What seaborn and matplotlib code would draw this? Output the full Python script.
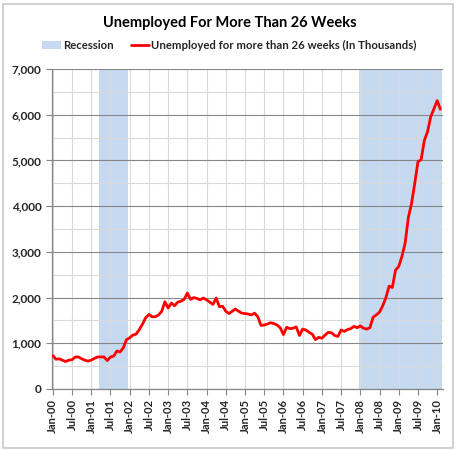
import numpy as np
import pandas as pd
import matplotlib
matplotlib.use("Agg")
import matplotlib.pyplot as plt
import matplotlib.ticker as mticker
from matplotlib.patches import Rectangle
import seaborn as sns

# ---- data (thousands, monthly from Jan 2000) ----
start_month = "2000-01"
values = [
    730, 650, 660, 630, 600, 630, 640, 700, 700, 660, 630, 610,      # 2000
    630, 670, 700, 700, 700, 620, 700, 720, 830, 810, 900, 1080,     # 2001
    1120, 1180, 1200, 1300, 1420, 1560, 1630, 1580, 1580, 1620, 1700, 1910,  # 2002
    1770, 1880, 1820, 1900, 1920, 1960, 2100, 1960, 2000, 1980, 1950, 1990,  # 2003
    1950, 1900, 1850, 1990, 1800, 1810, 1700, 1650, 1700, 1750, 1700, 1660,  # 2004
    1650, 1640, 1620, 1660, 1580, 1390, 1400, 1420, 1450, 1430, 1400, 1340,  # 2005
    1190, 1350, 1320, 1330, 1360, 1170, 1310, 1290, 1240, 1200, 1080, 1130,  # 2006
    1110, 1180, 1240, 1230, 1170, 1150, 1290, 1260, 1300, 1320, 1370, 1340,  # 2007
    1380, 1330, 1310, 1340, 1570, 1620, 1680, 1820, 2000, 2250, 2220, 2600,  # 2008
    2680, 2900, 3190, 3750, 4060, 4500, 4970, 5020, 5440, 5630, 5960, 6130,  # 2009
    6310, 6120,                                                        # 2010
]
tick_labels = ["Jan-00", "Jul-00", "Jan-01", "Jul-01", "Jan-02", "Jul-02",
               "Jan-03", "Jul-03", "Jan-04", "Jul-04", "Jan-05", "Jul-05",
               "Jan-06", "Jul-06", "Jan-07", "Jul-07", "Jan-08", "Jul-08",
               "Jan-09", "Jul-09", "Jan-10"]
recession_starts = ["2001-04", "2008-01"]
recession_ends = ["2001-12", "2010-02"]
series_name = "Unemployed for more than 26 weeks (In Thousands)"

df = pd.DataFrame({"month": np.arange(len(values)), "value": values})
p0 = pd.Period(start_month, freq="M")

def midx(s):
    return (pd.Period(s, freq="M") - p0).n

sns.set_style("white")
plt.rcParams["font.family"] = ["Lato", "DejaVu Sans"]

fig = plt.figure(figsize=(4.59, 4.50), dpi=100)
ax = fig.add_axes([0.113, 0.1356, 0.852, 0.711])

for i, (s, e) in enumerate(zip(recession_starts, recession_ends)):
    ax.axvspan(midx(s) - 0.5, midx(e) + 0.5, color="#C5D9F1", lw=0,
               label="Recession" if i == 0 else None, zorder=0)

sns.lineplot(data=df, x="month", y="value", ax=ax, color="#FF0000", lw=2,
             label=series_name, zorder=3)

ax.set_xlim(-0.3, 121.8)
ax.set_ylim(0, 7000)
ax.set_xticks(np.arange(0, 6 * len(tick_labels), 6))
ax.set_xticklabels(tick_labels, rotation=90, fontsize=8, color="#262626", fontweight="bold")
ax.yaxis.set_major_locator(mticker.MultipleLocator(1000))
ax.yaxis.set_minor_locator(mticker.MultipleLocator(500))
ax.yaxis.set_major_formatter(mticker.FuncFormatter(lambda v, p: f"{int(v):,}"))
for lab in ax.get_yticklabels():
    lab.set_fontweight("bold")
ax.tick_params(axis="y", labelsize=8.5, labelcolor="#262626", length=4, color="#868686", direction="out", left=True)
ax.tick_params(axis="y", which="minor", length=0)
ax.tick_params(axis="x", length=4, color="#868686", direction="out", bottom=True, pad=3)
ax.grid(axis="y", which="major", color="#868686", lw=0.8)
ax.grid(axis="y", which="minor", color="#D9D9D9", lw=0.8)
ax.grid(axis="x", which="major", color="#D9D9D9", lw=0.8)
ax.set_axisbelow(True)
for sp in ["top", "right"]:
    ax.spines[sp].set_visible(False)
for sp in ["left", "bottom"]:
    ax.spines[sp].set_color("#868686")
    ax.spines[sp].set_linewidth(0.9)
ax.set_xlabel("")
ax.set_ylabel("")

handles, labels = ax.get_legend_handles_labels()
ax.get_legend().remove()
fig.legend(handles, labels, loc="center", bbox_to_anchor=(0.5, 0.898), ncol=2,
           frameon=False, handlelength=1.6, columnspacing=1.5,
           handletextpad=0.2, prop={"weight": "bold", "size": 8.2})

fig.text(0.5, 0.95, "Unemployed For More Than 26 Weeks", ha="center", va="center",
         fontsize=10.5, fontweight="bold", color="#000000")

fig.patches.append(Rectangle((0.007, 0.004), 0.981, 0.987, transform=fig.transFigure,
                             fill=False, edgecolor="#C8C8C8", lw=1.2))

fig.savefig("out.png", dpi=100)
